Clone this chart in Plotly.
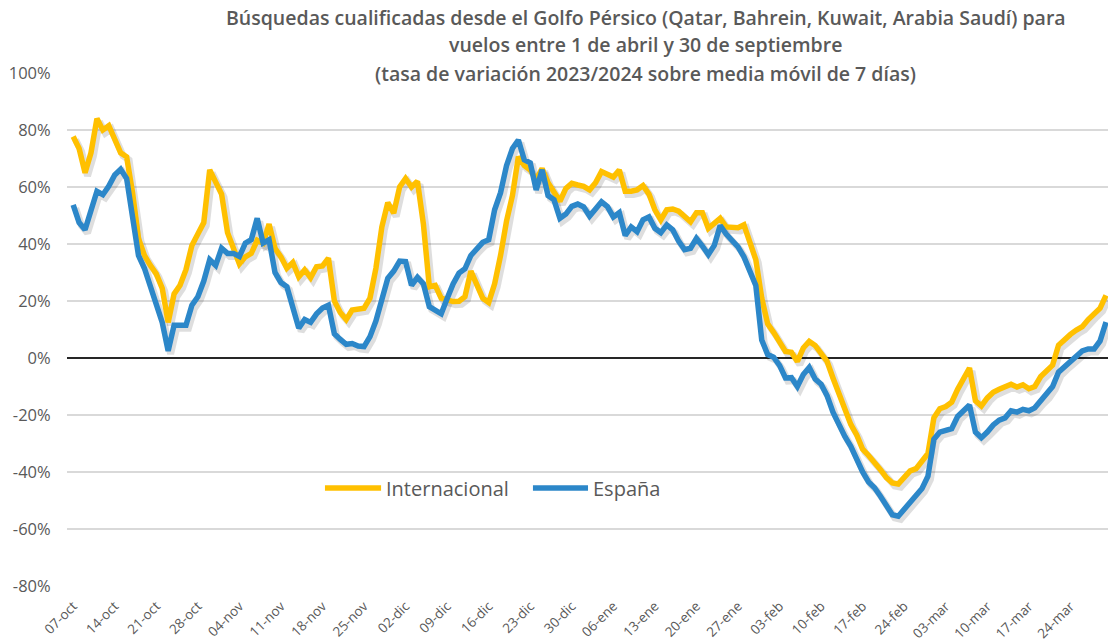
import plotly.graph_objects as go
import pandas as pd

# daily series, 07-oct-2023 .. 29-mar-2024 (% change 2023/2024, 7-day moving avg)
start_date = "2023-10-07"

internacional = [
    77.7, 73.5, 65, 72, 84, 80, 81.5, 77, 72, 70.6,
    58, 42, 36, 32.5, 29.5, 24.5, 12.5, 22.5, 25.5, 31,
    39.5, 43.5, 47.5, 66, 61.5, 57.5, 44, 39, 33, 35.5,
    36.7, 41.3, 40.3, 47, 38.5, 35.5, 31.5, 33.5, 28.5, 30.9,
    28.2, 32, 32.3, 35, 20, 16, 13.5, 16.8, 17.2, 17.5,
    21, 31.5, 46, 54.5, 50.8, 60, 63, 60, 62, 47,
    25, 25.5, 21, 20.3, 19.8, 19.9, 21.5, 30.5, 26.2, 21,
    19.5, 26, 36, 48, 57, 70.6, 67.5, 66, 62.5, 66.5,
    61.5, 58, 55, 59.5, 61.3, 60.7, 60.2, 59, 61.5, 65.4,
    64.2, 63.5, 66, 58.5, 58.5, 59, 60.5, 57.5, 52, 48.5,
    52, 52.3, 51.5, 49.3, 47.8, 51, 51, 45.5, 47.3, 49,
    46, 46, 45.7, 46.7, 41, 34.5, 21, 12, 9, 5.5,
    2.3, 2, -1.2, 3.5, 5.8, 4.4, 1.7, -1.2, -7, -12.5,
    -18.5, -23.3, -27, -32, -34.2, -36.5, -39.2, -42, -43.8, -44.2,
    -42.1, -39.6, -38.8, -36.5, -33.5, -21, -17.8, -17, -15.5, -11,
    -7.5, -3.5, -15, -16.8, -14, -12, -11, -10.2, -9.2, -10.2,
    -9.4, -10.8, -10, -6.5, -4.5, -2.5, 4.5, 6.5, 8.3, 9.8,
    11, 13.5, 15.5, 17.5, 22,
]

espana = [
    53.7, 47.5, 45, 52, 58.5, 57.3, 60.3, 64.2, 66.2, 63,
    49, 36, 31.5, 25.5, 19.5, 12.5, 2.5, 11.5, 11.5, 11.5,
    18.5, 21.5, 27, 34.5, 32.5, 38.5, 36.7, 36.7, 35.6, 40.3,
    41.5, 49, 40.3, 41.5, 30, 26.5, 25, 18.5, 10.5, 13.5,
    12.5, 15.5, 17.5, 18.5, 8.5, 6.5, 4.8, 5.1, 4.2, 4,
    7.5, 13, 21.5, 28, 30.5, 34, 33.8, 25.5, 28.3, 26,
    18, 16.5, 15.5, 20.9, 26, 29.8, 31.3, 36, 38.5, 40.6,
    41.5, 52, 58, 67.5, 73.5, 76.5, 69.5, 68.5, 59, 66,
    57, 55.5, 49, 50.5, 53.2, 54, 53, 49.8, 52.3, 54.8,
    53.1, 49.5, 51, 43, 46, 44.3, 48.5, 49.5, 45.5, 44,
    46.7, 45, 41, 38, 38.5, 42, 39.3, 36.3, 39.5, 46.5,
    43.5, 41, 39, 35.5, 31, 25.5, 6.3, 1.2, 0.3, -2.6,
    -7, -6.9, -10, -5.8, -3.3, -7.4, -9.2, -13.2, -19, -23.5,
    -27.5, -31, -36, -40, -43.5, -45.5, -48.5, -51.5, -55, -55.5,
    -53, -50.5, -48.5, -45.8, -41.5, -28.5, -26, -25.3, -24.8, -20.5,
    -18.3, -16.5, -26, -28, -26, -23.5, -21.8, -21, -18.5, -19,
    -18, -18.5, -17.5, -15, -13, -10, -5, -3, -1, 1,
    2.5, 3.2, 3.2, 6, 12.6,
]

tick_labels = [
    "07-oct", "14-oct", "21-oct", "28-oct", "04-nov", "11-nov", "18-nov",
    "25-nov", "02-dic", "09-dic", "16-dic", "23-dic", "30-dic", "06-ene",
    "13-ene", "20-ene", "27-ene", "03-feb", "10-feb", "17-feb", "24-feb",
    "03-mar", "10-mar", "17-mar", "24-mar",
]

y_ticks = [-80, -60, -40, -20, 0, 20, 40, 60, 80, 100]
y_tick_labels = ["-80%", "-60%", "-40%", "-20%", "0%", "20%", "40%", "60%", "80%", "100%"]

title_lines = [
    "Búsquedas cualificadas desde el Golfo Pérsico (Qatar, Bahrein, Kuwait, Arabia Saudí) para",
    "vuelos entre 1 de abril y 30 de septiembre",
    "(tasa de variación 2023/2024 sobre media móvil de 7 días)",
]

series_names = ["Internacional", "España"]

dates = pd.date_range(start_date, periods=len(internacional), freq="D")
tick_dates = pd.date_range(start_date, periods=len(tick_labels), freq="7D")

YELLOW = "#FFC000"
BLUE = "#2C87C9"
TEXT = "#595959"
FONT = "Open Sans"
colors = [YELLOW, BLUE]

fig = go.Figure()

# soft drop shadow under each line (Excel style)
shadow_dx = pd.Timedelta(hours=10)
for series in (internacional, espana):
    fig.add_trace(go.Scatter(
        x=dates + shadow_dx,
        y=[v - 1.1 for v in series],
        mode="lines",
        line=dict(color="rgba(0,0,0,0.13)", width=7),
        hoverinfo="skip",
        showlegend=False,
    ))

for name, series, col in zip(series_names, (internacional, espana), colors):
    fig.add_trace(go.Scatter(
        x=dates, y=series, name=name,
        mode="lines", line=dict(color=col, width=5.5),
        showlegend=False,
    ))

# legend drawn by hand so the key lines are as long as in the original
legend_y = 0.191
legend_items = [(0.2478, 0.3017), (0.4476, 0.5005)]
for name, col, (lx0, lx1) in zip(series_names, colors, legend_items):
    fig.add_shape(
        type="line", xref="paper", yref="paper",
        x0=lx0, x1=lx1, y0=legend_y, y1=legend_y,
        line=dict(color=col, width=5.5),
    )
    fig.add_annotation(
        text=name, xref="paper", yref="paper", x=lx1 + 0.003, y=legend_y,
        xanchor="left", yanchor="middle", showarrow=False,
        font=dict(family=FONT, size=20, color=TEXT),
    )

# title, three centred lines
for txt, ypos in zip(title_lines, [1.109, 1.0546, 1.0]):
    fig.add_annotation(
        text=txt, xref="paper", yref="paper", x=0.556, y=ypos,
        xanchor="center", yanchor="middle", showarrow=False,
        font=dict(family=FONT, size=19.5, color=TEXT, weight=600),
    )

fig.update_layout(
    width=1108, height=643,
    margin=dict(l=67, r=0, t=73, b=57),
    paper_bgcolor="white", plot_bgcolor="white",
    font=dict(family=FONT, color=TEXT),
    showlegend=False,
    xaxis=dict(
        range=[dates[0] - pd.Timedelta(hours=25), dates[-1] + pd.Timedelta(hours=8)],
        tickvals=tick_dates, ticktext=tick_labels, tickangle=-45,
        tickfont=dict(family=FONT, size=13.5, color=TEXT),
        showgrid=False, zeroline=False, showline=False,
        ticks="outside", ticklen=6, tickcolor="rgba(0,0,0,0)",
    ),
    yaxis=dict(
        range=[-80, 100], tickvals=y_ticks, ticktext=y_tick_labels,
        tickfont=dict(family=FONT, size=16.5, color=TEXT),
        showgrid=True, gridcolor="#D9D9D9", gridwidth=1.5,
        zeroline=True, zerolinecolor="#262626", zerolinewidth=2,
        ticks="outside", ticklen=12, tickcolor="rgba(0,0,0,0)",
        showline=False,
    ),
)

fig.write_html(
    "out.html",
    config={"displayModeBar": False},
    post_script="document.body.style.margin='0';",
)
